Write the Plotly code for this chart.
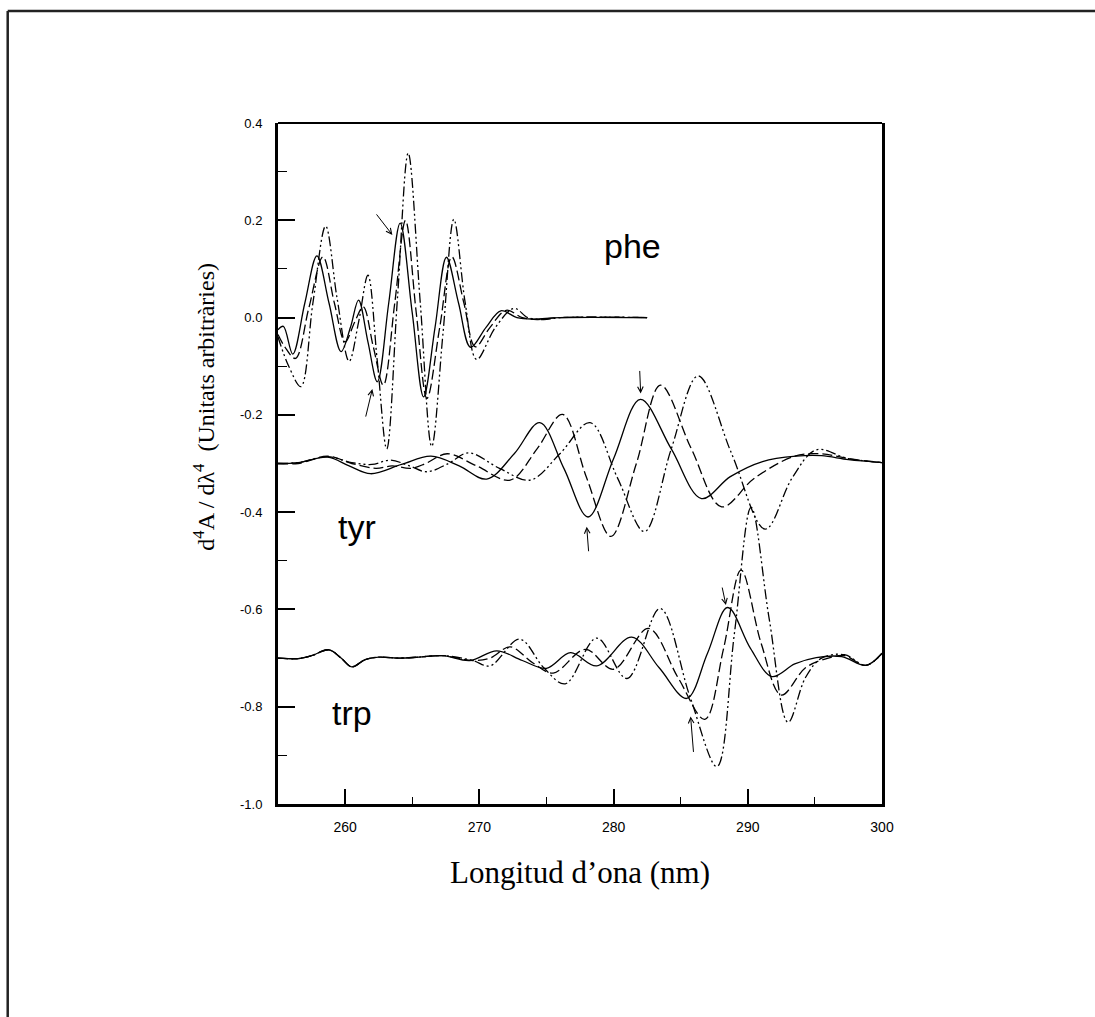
import plotly.graph_objects as go

# ---------------- data ----------------
# phe (baseline 0)
phe_solid_x = [255.0, 255.4, 256.1, 257.0, 257.9, 258.8, 259.7, 260.4, 261.0, 261.7, 262.4, 263.25, 264.1, 265.0, 265.85, 266.7, 267.55, 268.45, 269.35, 270.5, 271.6, 272.8, 274.0, 276.0, 282.5]
phe_solid_y = [-0.025, -0.018, -0.075, 0.03, 0.127, 0.03, -0.07, -0.02, 0.036, -0.05, -0.132, 0.03, 0.194, 0.01, -0.163, -0.02, 0.124, 0.03, -0.061, -0.02, 0.014, 0.0, -0.003, 0.0, 0.0]
phe_dash_x = [255.0, 255.5, 256.3, 257.3, 258.35, 259.2, 260.0, 260.7, 261.35, 262.1, 262.85, 263.7, 264.5, 265.3, 266.1, 267.05, 267.95, 268.85, 269.7, 270.8, 272.0, 273.2, 274.3, 276.0, 282.5]
phe_dash_y = [-0.035, -0.06, -0.084, 0.02, 0.125, 0.03, -0.05, -0.01, 0.022, -0.06, -0.139, 0.03, 0.2, 0.01, -0.166, -0.02, 0.125, 0.03, -0.06, -0.02, 0.015, 0.0, -0.004, 0.0, 0.0]
phe_ddot_x = [255.0, 255.8, 256.7, 257.6, 258.55, 259.4, 260.3, 261.0, 261.7, 262.4, 263.1, 263.9, 264.7, 265.6, 266.45, 267.3, 268.1, 268.95, 269.8, 271.2, 272.6, 273.6, 274.8, 276.0, 282.5]
phe_ddot_y = [-0.04, -0.1, -0.142, 0.03, 0.188, 0.04, -0.09, -0.01, 0.087, -0.09, -0.27, 0.04, 0.338, 0.03, -0.265, -0.03, 0.202, 0.03, -0.086, -0.02, 0.019, 0.0, -0.004, 0.0, 0.0]

# tyr (baseline -0.3)
tyr_solid_x = [255.0, 256.5, 258.7, 260.3, 261.9, 264.2, 266.4, 268.5, 270.55, 272.6, 274.5, 276.3, 278.1, 280.0, 282.0, 284.3, 286.55, 288.7, 291.1, 293.6, 295.5, 297.5, 300.0]
tyr_solid_y = [-0.300, -0.298, -0.287, -0.305, -0.321, -0.302, -0.285, -0.305, -0.332, -0.28, -0.216, -0.31, -0.41, -0.29, -0.168, -0.27, -0.372, -0.327, -0.296, -0.285, -0.284, -0.292, -0.298]
tyr_dash_x = [255.0, 256.5, 258.7, 260.5, 262.3, 263.5, 264.9, 266.0, 267.6, 269.8, 272.3, 274.3, 276.2, 278.0, 279.8, 281.7, 283.5, 285.8, 288.05, 290.5, 293.5, 295.5, 297.5, 300.0]
tyr_dash_y = [-0.300, -0.300, -0.285, -0.30, -0.31, -0.305, -0.31, -0.30, -0.28, -0.305, -0.334, -0.27, -0.199, -0.33, -0.45, -0.30, -0.139, -0.27, -0.389, -0.33, -0.285, -0.28, -0.29, -0.298]
tyr_ddot_x = [255.0, 256.5, 258.7, 260.5, 262.0, 263.4, 264.8, 266.1, 267.7, 269.2, 271.5, 273.8, 276.0, 278.25, 280.3, 282.3, 284.3, 286.3, 288.8, 291.3, 293.3, 295.1, 297.5, 300.0]
tyr_ddot_y = [-0.300, -0.298, -0.286, -0.298, -0.302, -0.293, -0.305, -0.317, -0.30, -0.278, -0.31, -0.334, -0.28, -0.216, -0.33, -0.44, -0.27, -0.12, -0.28, -0.435, -0.33, -0.272, -0.29, -0.298]

# trp (baseline -0.7)
trp_solid_x = [255.0, 256.5, 257.5, 258.8, 259.7, 260.5, 261.5, 262.5, 264.1, 265.5, 267.3, 269.3, 271.3, 273.2, 275.0, 276.8, 278.75, 281.35, 283.4, 285.45, 287.0, 288.5, 290.2, 291.8, 293.5, 295.1, 297.0, 298.8, 300.0]
trp_solid_y = [-0.700, -0.701, -0.695, -0.683, -0.70, -0.718, -0.703, -0.698, -0.70, -0.698, -0.695, -0.705, -0.685, -0.705, -0.721, -0.689, -0.716, -0.657, -0.72, -0.783, -0.69, -0.596, -0.68, -0.738, -0.712, -0.699, -0.697, -0.715, -0.69]
trp_dash_x = [255.0, 256.5, 257.5, 258.8, 259.7, 260.5, 261.5, 262.5, 264.1, 265.5, 267.3, 269.5, 270.8, 272.3, 274.0, 275.5, 277.9, 280.0, 282.6, 284.8, 286.8, 288.2, 289.5, 291.0, 292.5, 294.3, 296.0, 297.2, 298.8, 300.0]
trp_dash_y = [-0.700, -0.701, -0.695, -0.683, -0.70, -0.718, -0.703, -0.698, -0.70, -0.698, -0.695, -0.705, -0.70, -0.677, -0.71, -0.731, -0.682, -0.723, -0.639, -0.74, -0.826, -0.68, -0.519, -0.67, -0.776, -0.72, -0.70, -0.695, -0.715, -0.69]
trp_ddot_x = [255.0, 256.5, 257.5, 258.8, 259.7, 260.5, 261.5, 262.5, 264.1, 265.5, 267.3, 269.5, 270.8, 273.0, 274.8, 276.4, 278.75, 281.0, 283.46, 285.7, 287.7, 289.0, 290.25, 291.6, 293.0, 294.3, 295.5, 297.2, 298.8, 300.0]
trp_ddot_y = [-0.700, -0.701, -0.695, -0.683, -0.70, -0.718, -0.703, -0.698, -0.70, -0.698, -0.695, -0.705, -0.716, -0.661, -0.72, -0.753, -0.659, -0.742, -0.598, -0.78, -0.923, -0.65, -0.39, -0.62, -0.832, -0.74, -0.70, -0.693, -0.715, -0.69]

y_tick_vals = [-1.0, -0.8, -0.6, -0.4, -0.2, 0.0, 0.2, 0.4]
y_tick_text = ["-1.0", "-0.8", "-0.6", "-0.4", "-0.2", "0.0", "0.2", "0.4"]
x_tick_vals = [260, 270, 280, 290, 300]
x_tick_text = ["260", "270", "280", "290", "300"]

labels = [("phe", 281.4, 0.147), ("tyr", 260.9, -0.43), ("trp", 260.5, -0.813)]
# arrows: (head x, head y, tail offset px x, tail offset px y)
arrows = [(263.52, 0.170, -17, -22), (262.03, -0.147, -7, 29), (282.02, -0.156, -1, -24),
          (278.0, -0.43, 2, 26), (288.37, -0.591, -4, -19), (285.74, -0.82, 3, 37)]

# ---------------- figure ----------------
SOLID = "solid"
DASH = "10px,4px"
DDOT = "10px,3px,2px,3px,2px,3px"

fig = go.Figure()
series = [
    (phe_solid_x, phe_solid_y, SOLID), (phe_dash_x, phe_dash_y, DASH), (phe_ddot_x, phe_ddot_y, DDOT),
    (tyr_solid_x, tyr_solid_y, SOLID), (tyr_dash_x, tyr_dash_y, DASH), (tyr_ddot_x, tyr_ddot_y, DDOT),
    (trp_solid_x, trp_solid_y, SOLID), (trp_dash_x, trp_dash_y, DASH), (trp_ddot_x, trp_ddot_y, DDOT),
]
for xs, ys, d in series:
    fig.add_trace(go.Scatter(x=xs, y=ys, mode="lines",
                             line=dict(color="black", width=1.3, dash=d, shape="spline", smoothing=1.0),
                             showlegend=False, hoverinfo="skip"))

for txt, lx, ly in labels:
    fig.add_annotation(x=lx, y=ly, text=txt, showarrow=False, xanchor="center", yanchor="middle",
                       font=dict(family="Liberation Sans, Arial", size=34, color="black"))

for hx, hy, axp, ayp in arrows:
    fig.add_annotation(x=hx, y=hy, ax=axp, ay=ayp, text="", showarrow=True,
                       arrowhead=5, arrowsize=1.1, arrowwidth=1, arrowcolor="black")

# axis titles as annotations
fig.add_annotation(xref="paper", yref="paper", x=0.5, y=-0.101, text="Longitud d\u2019ona (nm)",
                   showarrow=False, xanchor="center", yanchor="middle",
                   font=dict(family="Liberation Serif, Times New Roman", size=31, color="black"))
fig.add_annotation(xref="paper", yref="paper", x=-0.123, y=0.583,
                   text="d<sup>4</sup>A / d\u03bb<sup>4</sup> \u00a0(Unitats arbitr\u00e0ries)",
                   textangle=-90, showarrow=False, xanchor="center", yanchor="middle",
                   font=dict(family="Liberation Serif, Times New Roman", size=24, color="black"))

# top axis line (thinner) and outer frame (left + top only)
fig.add_shape(type="line", xref="paper", yref="paper", x0=0, x1=1, y0=1, y1=1,
              line=dict(color="black", width=2))
fig.add_shape(type="line", xref="paper", yref="paper", x0=-0.4475, x1=-0.4475, y0=-0.32, y1=1.1645,
              line=dict(color="#222", width=2.5))
fig.add_shape(type="line", xref="paper", yref="paper", x0=-0.4475, x1=1.36, y0=1.1645, y1=1.1645,
              line=dict(color="#222", width=2.5))

fig.update_xaxes(range=[255, 300], showgrid=False, zeroline=False,
                 showline=True, linecolor="black", linewidth=3, mirror=False,
                 ticks="inside", ticklen=15, tickwidth=1.5, tickcolor="black",
                 tickvals=x_tick_vals, ticktext=x_tick_text, ticklabelstandoff=8,
                 tickfont=dict(family="Liberation Sans, Arial", size=14, color="black"),
                 minor=dict(ticks="inside", ticklen=7, tickwidth=1.2, tickcolor="black", dtick=5, tick0=255))
fig.update_yaxes(range=[-1.0, 0.4], showgrid=False, zeroline=False,
                 showline=True, linecolor="black", linewidth=3, mirror=True,
                 ticks="inside", ticklen=17, tickwidth=1.5, tickcolor="black",
                 tickvals=y_tick_vals, ticktext=y_tick_text, ticklabelstandoff=10,
                 tickfont=dict(family="Liberation Sans, Arial", size=13, color="black"),
                 minor=dict(ticks="inside", ticklen=9, tickwidth=1.2, tickcolor="black", dtick=0.1, tick0=0))

fig.update_layout(width=1095, height=1017, autosize=False,
                  margin=dict(l=278, r=213, t=123, b=213),
                  paper_bgcolor="white", plot_bgcolor="white", showlegend=False)

fig.write_html("out.html")
